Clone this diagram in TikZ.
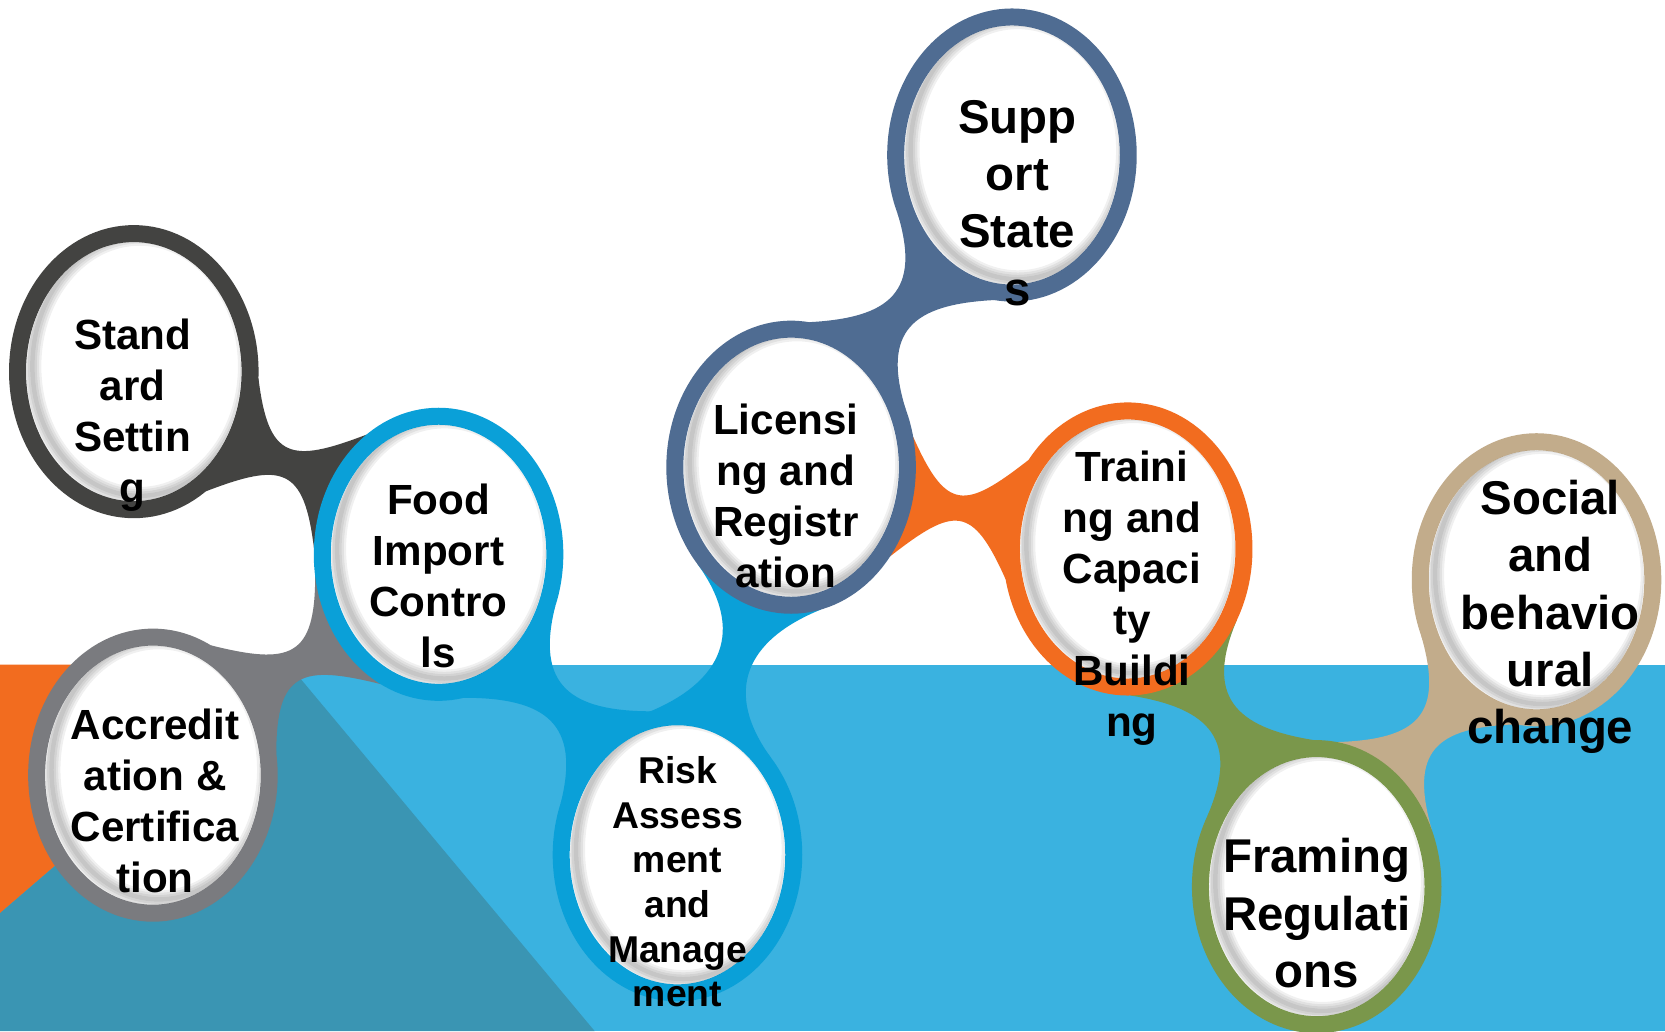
\documentclass[tikz,border=0pt]{standalone}
\usepackage{fontspec}
\setmainfont{Liberation Sans}
\usetikzlibrary{shapes.geometric}

\definecolor{skyblue}{HTML}{3AB2E0}
\definecolor{seablue}{HTML}{3A95B3}
\definecolor{ringblue}{HTML}{0AA0D8}
\definecolor{tangerine}{HTML}{F26C1F}
\definecolor{charcoal}{HTML}{434341}
\definecolor{steel}{HTML}{7A7B7F}
\definecolor{slate}{HTML}{4F6C92}
\definecolor{leafgreen}{HTML}{7A974B}
\definecolor{sand}{HTML}{C2AC8B}

\pgfdeclarelayer{bg}
\pgfdeclarelayer{mid}
\pgfsetlayers{bg,mid,main}

% neck between two rings: from, to, direction, colour
\newcommand{\neck}[4]{%
  \pgfmathtruncatemacro\pa{mod(#3+28+720,360)}\pgfmathtruncatemacro\pb{mod(#3+152+720,360)}%
  \pgfmathtruncatemacro\pc{mod(#3+208+720,360)}\pgfmathtruncatemacro\pd{mod(#3-28+720,360)}%
  \pgfmathtruncatemacro\ta{mod(#3-52+720,360)}\pgfmathtruncatemacro\tb{mod(#3-128+720,360)}%
  \pgfmathtruncatemacro\tc{mod(#3+128+720,360)}\pgfmathtruncatemacro\td{mod(#3+52+720,360)}%
  \fill[#4] (#1.\pa) .. controls +(\ta:.77cm) and +(\tb:.77cm) .. (#2.\pb)
    -- (#2.\pc) .. controls +(\tc:.77cm) and +(\td:.77cm) .. (#1.\pd) -- cycle;}

\begin{document}
\begin{tikzpicture}[
    ring/.style={ellipse,draw=#1,line width=1.6mm,fill=white,minimum width=2.19cm,minimum height=2.6cm,inner sep=0pt},
    lbl/.style={align=center,inner sep=0pt,font=\bfseries\fontsize{11.3}{13.66}\selectfont},
    lblbig/.style={lbl,font=\bfseries\fontsize{12.7}{15.37}\selectfont},
    lblsmall/.style={lbl,font=\bfseries\fontsize{10}{11.95}\selectfont}]
  \useasboundingbox (0,0) rectangle (15.68,-9.71);

  \foreach \n/\x/\y/\c in {S/1.26/3.50/charcoal,F/4.13/5.22/ringblue,A/1.44/7.30/steel,
      R/6.38/8.05/ringblue,L/7.45/4.40/slate,P/9.53/1.46/slate,
      T/10.62/5.17/tangerine,G/12.40/8.35/leafgreen,C/14.47/5.46/sand}
  {
    \node[ring=\c] (\n) at (\x,-\y) {};
    % soft shadow inside the ring
    \begin{scope}
      \clip (\n.center) ellipse (1.01 and 1.22);
      \foreach \k in {1,...,4}
        \draw[black,opacity=.06,line width=\k*1.2pt] ([shift={(.055,.05)}]\n.center) ellipse (1.01 and 1.22);
    \end{scope}
  }

  \node[lbl] (S-t) at (1.25,-3.91) {Stand\\ard\\Settin\\g};
  \node[lbl] (F-t) at (4.13,-5.42) {Food\\Import\\Contro\\ls};
  \node[lbl] (A-t) at (1.46,-7.54) {Accredit\\ation \&\\Certifica\\tion};
  \node[lblsmall] (R-t) at (6.38,-8.305) {Risk\\Assess\\ment\\and\\Manage\\ment};
  \node[lbl] (L-t) at (7.40,-4.67) {Licensi\\ng and\\Registr\\ation};
  \node[lblbig] (P-t) at (9.58,-1.91) {Supp\\ort\\State\\s};
  \node[lbl] (T-t) at (10.66,-5.63) {Traini\\ng and\\Capaci\\ty\\Buildi\\ng};
  \node[lblbig] (G-t) at (12.40,-8.60) {Framing\\Regulati\\ons};
  \node[lblbig] (C-t) at (14.60,-5.81) {Social\\and\\behavio\\ural\\change};

  \begin{pgfonlayer}{mid}
    \neck{S}{F}{-31}{charcoal}
    \neck{F}{A}{218}{steel}
    \neck{F}{R}{-52}{ringblue}
    \neck{R}{L}{74}{ringblue}
    \neck{L}{P}{55}{slate}
    \neck{L}{T}{-14}{tangerine}
    \neck{T}{G}{-61}{leafgreen}
    \neck{G}{C}{54}{sand}
  \end{pgfonlayer}

  \begin{pgfonlayer}{bg}
    \fill[white] (0,0) rectangle (15.68,-9.71);
    \fill[skyblue] (0,-6.26) rectangle (15.68,-9.71);
    \fill[tangerine] (0,-6.26) -- (2.72,-6.26) -- (0,-8.60) -- cycle;
    \fill[seablue] (2.72,-6.26) -- (5.60,-9.71) -- (0,-9.71) -- (0,-8.60) -- cycle;
  \end{pgfonlayer}
\end{tikzpicture}
\end{document}
